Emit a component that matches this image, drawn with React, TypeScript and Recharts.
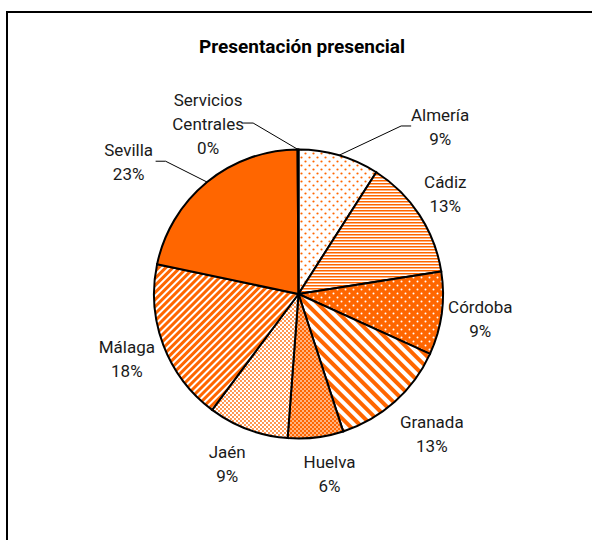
import React from 'react';
import { PieChart, Pie, Cell } from 'recharts';

const provinces = ['Almería', 'Cádiz', 'Córdoba', 'Granada', 'Huelva', 'Jaén', 'Málaga', 'Sevilla', 'Servicios Centrales'];
const shares = [9.05, 13.45, 9.3, 13.2, 6.2, 9.0, 18.1, 21.6, 0.1];
const percentLabels = ['9%', '13%', '9%', '13%', '6%', '9%', '18%', '23%', '0%'];
const fills = ['url(#pAlmeria)', 'url(#pCadiz)', 'url(#pCordoba)', 'url(#pGranada)', 'url(#pHuelva)', 'url(#pJaen)', 'url(#pMalaga)', '#FF6600', '#FF6600'];
const title = 'Presentación presencial';

const data = provinces.map((name, i) => ({ name, value: shares[i], pct: percentLabels[i] }));

const ORANGE = '#FF6600';
const FONT = "Roboto, 'Liberation Sans', sans-serif";
const RAD = Math.PI / 180;
const CX = 298.5;
const CY = 294;
const R = 144.5;

type Place = { dr: number; a?: number; leader?: { side: 'left' | 'right'; half: number } };
const placement: Record<string, Place> = {
  'Almería': { dr: 74.5, a: 40.3, leader: { side: 'left', half: 29 } },
  'Cádiz': { dr: 33, a: 55.8 },
  'Córdoba': { dr: 39 },
  'Granada': { dr: 48.5, a: 136.3 },
  'Huelva': { dr: 38, a: 170.2 },
  'Jaén': { dr: 39.5, a: 202.8 },
  'Málaga': { dr: 39 },
  'Sevilla': { dr: 70.5, a: 307.8, leader: { side: 'right', half: 27 } },
  'Servicios Centrales': { dr: 48, a: 332, leader: { side: 'right', half: 35 } },
};

const pt = (cx: number, cy: number, r: number, a: number) => ({
  x: cx + r * Math.sin(a * RAD),
  y: cy - r * Math.cos(a * RAD),
});

const renderLabel = (props: any) => {
  const { cx, cy, midAngle, outerRadius, index } = props;
  const name = provinces[index];
  const pct = percentLabels[index];
  const pl = placement[name] || { dr: 39 };
  const mid = 90 - midAngle;
  const a = pl.a !== undefined ? pl.a : mid;
  const c = pt(cx, cy, outerRadius + pl.dr, a);
  const lines = [...name.split(' '), pct];
  const n = lines.length;
  const lh = 24;
  let leader = null;
  if (pl.leader) {
    const edge = pt(cx, cy, outerRadius, mid);
    const sign = pl.leader.side === 'left' ? -1 : 1;
    const endX = c.x + sign * pl.leader.half;
    const elbowX = endX + sign * 10;
    const ly = c.y - 1;
    leader = (
      <polyline
        points={`${edge.x},${edge.y} ${elbowX},${ly} ${endX},${ly}`}
        fill="none"
        stroke="#000"
        strokeWidth={1}
      />
    );
  }
  return (
    <g>
      {leader}
      {lines.map((t, i) => (
        <text
          key={i}
          x={c.x}
          y={c.y + (i - (n - 1) / 2) * lh}
          textAnchor="middle"
          dominantBaseline="central"
          fontFamily={FONT}
          fontSize={17}
          fill="#1a1a1a"
        >
          {t}
        </text>
      ))}
    </g>
  );
};

const Patterns = () => (
  <svg width={0} height={0} style={{ position: 'absolute' }}>
    <defs>
      <pattern id="pAlmeria" patternUnits="userSpaceOnUse" width={8} height={8}>
        <rect width={8} height={8} fill="#fff" />
        <circle cx={1.5} cy={1.5} r={1.1} fill={ORANGE} />
        <circle cx={5.5} cy={5.5} r={1.1} fill={ORANGE} />
      </pattern>
      <pattern id="pCadiz" patternUnits="userSpaceOnUse" width={4} height={3}>
        <rect width={4} height={3} fill="#fff" />
        <rect y={0} width={4} height={1.5} fill={ORANGE} />
      </pattern>
      <pattern id="pCordoba" patternUnits="userSpaceOnUse" width={8} height={8}>
        <rect width={8} height={8} fill={ORANGE} />
        <circle cx={1.5} cy={1.5} r={1} fill="#fff" />
        <circle cx={5.5} cy={5.5} r={1} fill="#fff" />
      </pattern>
      <pattern id="pGranada" patternUnits="userSpaceOnUse" width={8} height={8} patternTransform="rotate(-45)">
        <rect width={8} height={8} fill="#fff" />
        <rect width={4} height={8} fill={ORANGE} />
      </pattern>
      <pattern id="pHuelva" patternUnits="userSpaceOnUse" width={4} height={4}>
        <rect width={4} height={4} fill={ORANGE} />
        <rect x={0} y={0.5} width={2} height={1} fill="#fff" />
        <rect x={2} y={2.5} width={2} height={1} fill="#fff" />
      </pattern>
      <pattern id="pJaen" patternUnits="userSpaceOnUse" width={4} height={4}>
        <rect width={4} height={4} fill="#fff" />
        <circle cx={1} cy={1} r={0.9} fill={ORANGE} />
        <circle cx={3} cy={3} r={0.9} fill={ORANGE} />
      </pattern>
      <pattern id="pMalaga" patternUnits="userSpaceOnUse" width={5} height={5} patternTransform="rotate(45)">
        <rect width={5} height={5} fill="#fff" />
        <rect width={3} height={5} fill={ORANGE} />
      </pattern>
    </defs>
  </svg>
);

export default function App() {
  return (
    <div style={{ position: 'absolute', left: 0, top: 0, width: 592, height: 540, overflow: 'hidden', background: '#fff' }}>
      <Patterns />
      <div
        style={{
          position: 'absolute',
          left: 6,
          top: 11,
          width: 700,
          height: 700,
          border: '2px solid #000',
        }}
      />
      <div
        style={{
          position: 'absolute',
          left: 0,
          width: 604,
          top: 35,
          textAlign: 'center',
          fontFamily: FONT,
          fontWeight: 'bold',
          fontSize: 19,
          color: '#000',
          lineHeight: '24px',
        }}
      >
        {title}
      </div>
      <div style={{ position: 'absolute', left: 0, top: 0 }}>
        <PieChart width={592} height={540} margin={{ top: 0, right: 0, bottom: 0, left: 0 }}>
          <Pie
            data={data}
            dataKey="value"
            nameKey="name"
            cx={CX}
            cy={CY}
            outerRadius={R}
            innerRadius={0}
            startAngle={90}
            endAngle={-270}
            stroke="#000"
            strokeWidth={2}
            label={renderLabel}
            labelLine={false}
            isAnimationActive={false}
          >
            {data.map((d, i) => (
              <Cell key={d.name} fill={fills[i]} stroke="#000" strokeWidth={2} />
            ))}
          </Pie>
        </PieChart>
      </div>
    </div>
  );
}
